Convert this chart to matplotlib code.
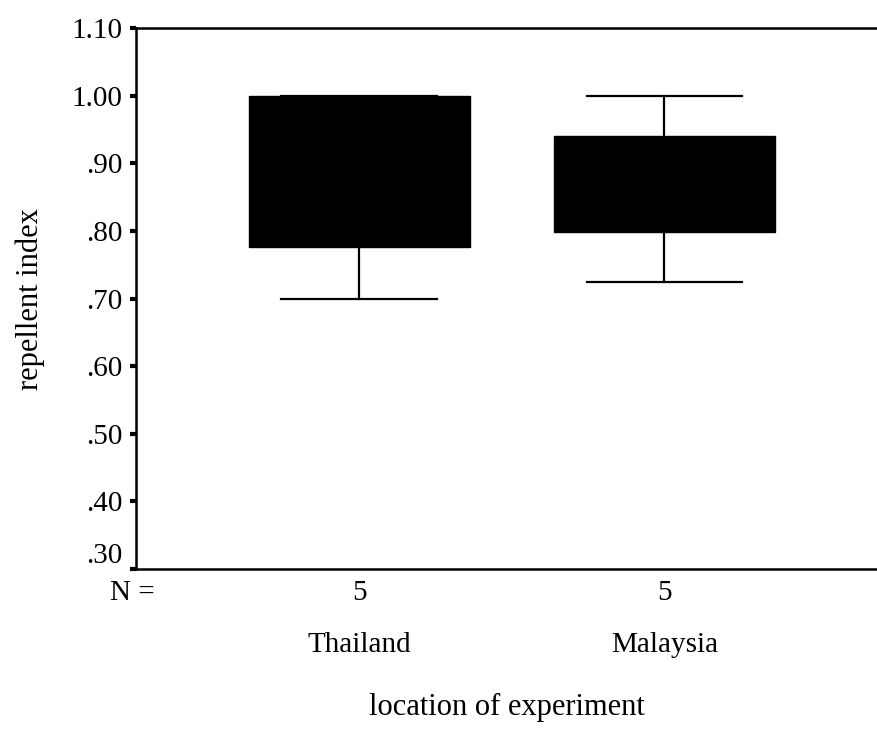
import matplotlib
matplotlib.use("Agg")
import matplotlib.pyplot as plt
import matplotlib.transforms as mtransforms

plt.rcParams['font.family'] = ['Liberation Serif', 'DejaVu Serif']

# box plot summary
locations = ['Thailand', 'Malaysia']
n_cases = [5, 5]
whisker_low = [0.70, 0.725]
q1 = [0.776, 0.798]
median = [0.90, 0.875]
q3 = [1.00, 0.94]
whisker_high = [1.00, 1.00]

ytick_vals = [0.30, 0.40, 0.50, 0.60, 0.70, 0.80, 0.90, 1.00, 1.10]
ytick_labels = ['.30', '.40', '.50', '.60', '.70', '.80', '.90', '1.00', '1.10']

stats = []
for i in range(len(locations)):
    stats.append({'whislo': whisker_low[i], 'q1': q1[i], 'med': median[i],
                  'q3': q3[i], 'whishi': whisker_high[i], 'fliers': []})

fig = plt.figure(figsize=(8.78, 7.4), dpi=100)
ax = fig.add_axes([0.155, 0.231, 0.845, 0.731])

pos = [1, 2]
ax.bxp(stats, positions=pos, widths=0.725, patch_artist=True,
       showfliers=False,
       boxprops=dict(facecolor='black', edgecolor='black', linewidth=1),
       medianprops=dict(color='black', linewidth=1),
       whiskerprops=dict(color='black', linewidth=1.6),
       capprops=dict(color='black', linewidth=1.6),
       capwidths=0.51)

ax.set_xlim(0.269, 2.70)
ax.set_ylim(0.30, 1.10)
ax.set_yticks(ytick_vals)
ylabs = ax.set_yticklabels(ytick_labels, fontsize=21)
ylabs[0].set_va('bottom')  # bottom label sits above the axis line
ax.tick_params(axis='y', direction='out', length=4, width=3, pad=6)
ax.set_xticks(pos)
ax.set_xticklabels([str(n) for n in n_cases], fontsize=21)
ax.tick_params(axis='x', length=0, pad=8)

for side in ['left', 'top', 'bottom']:
    ax.spines[side].set_linewidth(1.8)
ax.spines['right'].set_visible(False)

trans = mtransforms.blended_transform_factory(ax.transData, ax.transAxes)
for p, name in zip(pos, locations):
    ax.text(p, -0.14, name, transform=trans, ha='center', va='center', fontsize=21)
ax.text(-0.035, -0.045, 'N =', transform=ax.transAxes, ha='left', va='center', fontsize=21)

ax.set_ylabel('repellent index', fontsize=22, labelpad=19)
ax.text(0.5, -0.256, 'location of experiment', transform=ax.transAxes,
        ha='center', va='center', fontsize=22)

fig.savefig('out.png', dpi=100)
